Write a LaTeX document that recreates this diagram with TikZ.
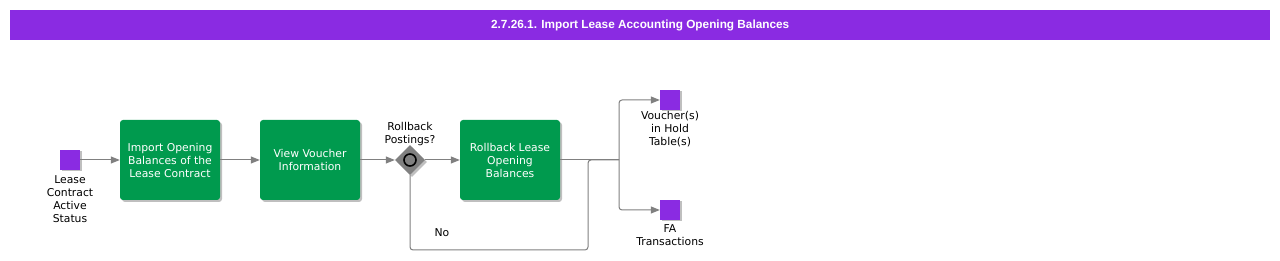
\documentclass[tikz,border=0pt]{standalone}
\usepackage{fontspec}
\setmainfont{DejaVu Sans}
\newfontfamily\titlefont{Liberation Sans}
\usetikzlibrary{arrows.meta,shapes.geometric,shadows}
\definecolor{hdr}{HTML}{8A2BE2}
\definecolor{evt}{HTML}{8A2BE2}
\definecolor{task}{HTML}{009A4E}
\definecolor{conn}{HTML}{808080}
\begin{document}
\begin{tikzpicture}[x=1pt,y=-1pt,
  lbl/.style={font=\fontsize{10.8}{13}\selectfont, align=center, text=black, inner sep=0pt},
  taskbox/.style={fill=task, rounded corners=3pt, minimum width=100pt, minimum height=80pt,
     text=white, align=center, font=\fontsize{10.8}{13}\selectfont, inner sep=0pt,
     drop shadow={shadow xshift=2pt, shadow yshift=-2pt, fill=black, opacity=0.25}},
  evtbox/.style={fill=evt, minimum width=20pt, minimum height=20pt, inner sep=0pt,
     drop shadow={shadow xshift=1.5pt, shadow yshift=-1.5pt, fill=black, opacity=0.25}},
  flow/.style={draw=conn, line width=1pt, -{Triangle[length=9pt,width=7pt]}, rounded corners=3pt},
  plain/.style={draw=conn, line width=1pt, rounded corners=3pt}
]
\useasboundingbox (0,0) rectangle (1280,261);
\fill[white] (0,0) rectangle (1280,261);
\node[fill=hdr, minimum width=1260pt, minimum height=30pt, inner sep=0pt, anchor=north west,
  text=white, font=\titlefont\bfseries\fontsize{11.8}{14}\selectfont] (title) at (10,10)
  {2.7.26.1. Import Lease Accounting Opening Balances};

\node[evtbox] (start) at (70,160) {};
\node[lbl, anchor=north] (startl) at (70,175) {Lease\\Contract\\Active\\Status};

\node[taskbox] (t1) at (170,160) {Import Opening\\Balances of the\\Lease Contract};
\node[taskbox] (t2) at (310,160) {View Voucher\\Information};

\node[diamond, aspect=1, fill=conn, minimum width=30pt, minimum height=30pt, inner sep=0pt,
  drop shadow={shadow xshift=2pt, shadow yshift=-2pt, fill=black, opacity=0.25}] (gw) at (410,160) {};
\draw[black, line width=1.6pt] (gw.center) circle (6pt);
\node[lbl, anchor=south] (gwl) at (410,146) {Rollback\\Postings?};

\node[taskbox] (t3) at (510,160) {Rollback Lease\\Opening\\Balances};

\node[evtbox] (e1) at (670,100) {};
\node[lbl, anchor=north] (e1l) at (670,111) {Voucher(s)\\in Hold\\Table(s)};
\node[evtbox] (e2) at (670,210) {};
\node[lbl, anchor=north] (e2l) at (670,224) {FA\\Transactions};

\coordinate (j) at (619,160);

\draw[flow] (start) -- (t1);
\draw[flow] (t1) -- (t2);
\draw[flow] (t2) -- (gw);
\draw[flow] (gw) -- (t3);
\draw[plain] (t3.east) -- (j);
\draw[flow] (j) |- (e1);
\draw[flow] (j) |- (e2);
\draw[plain] (gw.south) |- (588,250) -- (588,160) -- (j);
\node[lbl] (no) at (442,233) {No};
\end{tikzpicture}
\end{document}
